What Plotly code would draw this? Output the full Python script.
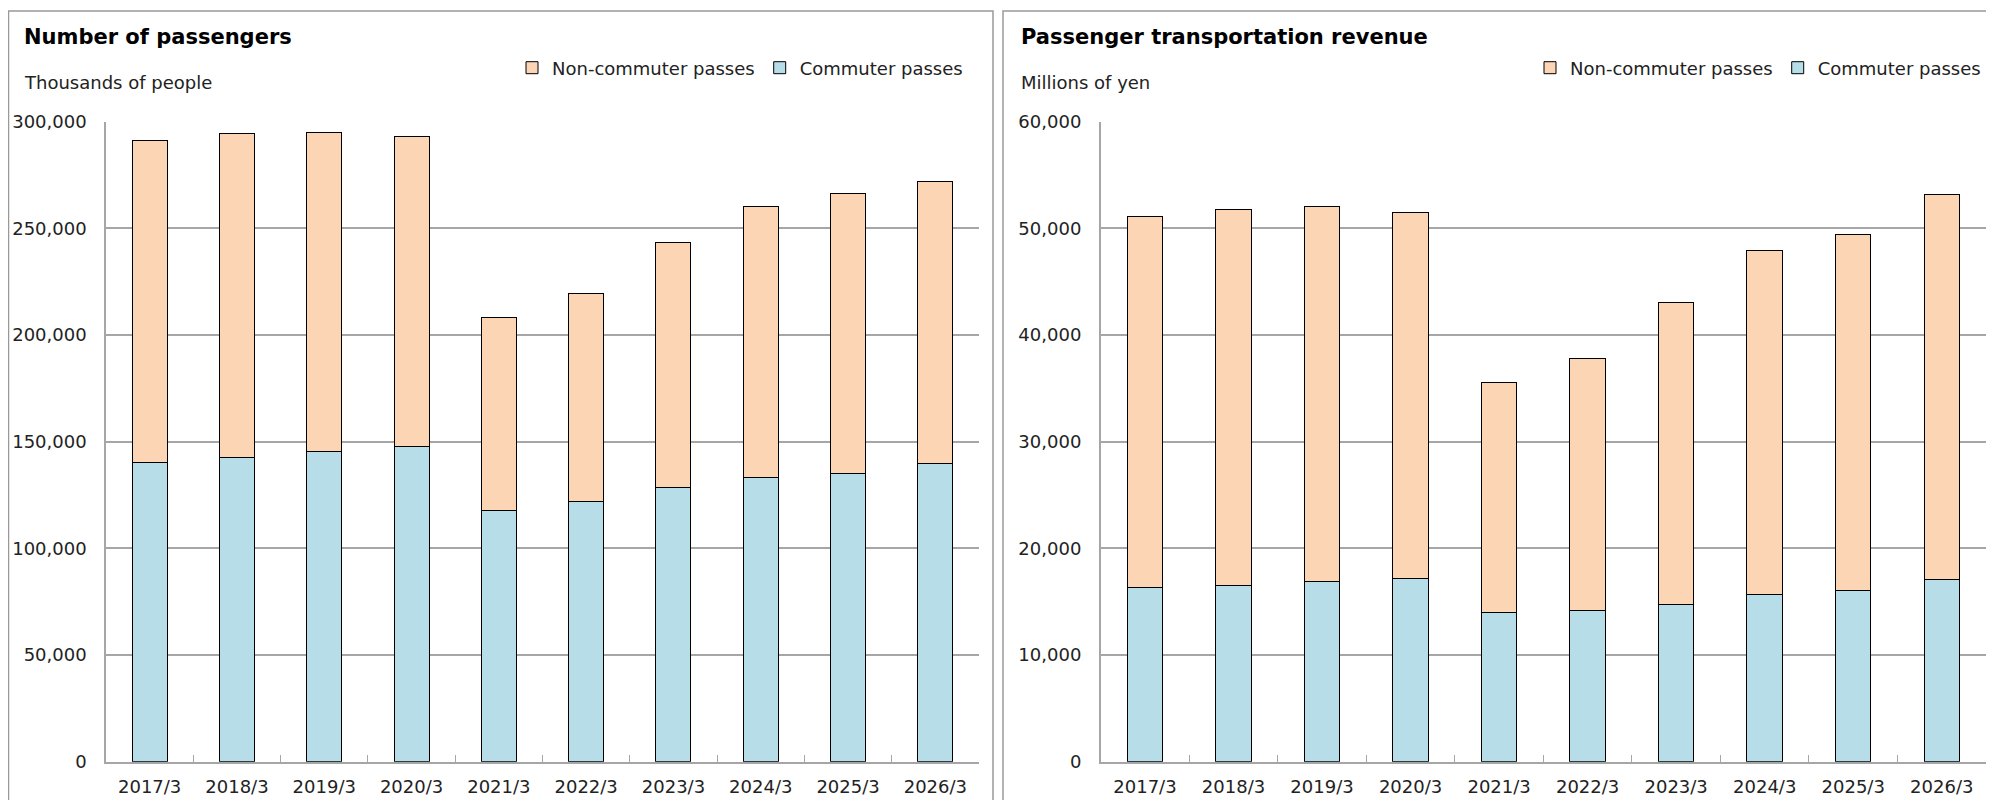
import plotly.graph_objects as go

# the page body keeps its default 8px margin, so the figure is drawn
# 16px smaller and reference pixel positions are shifted by 8px
OFF = 8
W, H = 1994 - 2 * OFF, 808 - 2 * OFF

years = ['2017/3', '2018/3', '2019/3', '2020/3', '2021/3',
         '2022/3', '2023/3', '2024/3', '2025/3', '2026/3']

# Number of passengers (thousands of people)
pax_commuter = [140300, 142400, 145300, 147700, 117700,
                121900, 128300, 133000, 135300, 139600]
pax_non_commuter = [150700, 152000, 149700, 145300, 90400,
                    97500, 115300, 127200, 131000, 132300]

# Passenger transportation revenue (millions of yen)
rev_commuter = [16310, 16560, 16880, 17130, 14000,
                14130, 14720, 15690, 16060, 17060]
rev_non_commuter = [34820, 35250, 35150, 34340, 21530,
                    23710, 28350, 32220, 33410, 36100]

pax_ticks = [0, 50000, 100000, 150000, 200000, 250000, 300000]
rev_ticks = [0, 10000, 20000, 30000, 40000, 50000, 60000]

BLUE = '#B7DEE8'
PEACH = '#FCD5B5'
GRID = '#A6A6A6'
FONT = 'Verdana, DejaVu Sans, sans-serif'


def px_x(x):
    return min((x - OFF) / W, 1.0)


def px_y(y):
    return 1 - (y - OFF) / H


fig = go.Figure()

# left panel
fig.add_trace(go.Bar(
    x=years, y=pax_commuter, name='Commuter passes',
    marker=dict(color=BLUE, line=dict(color='black', width=1)),
    xaxis='x', yaxis='y', legend='legend'
))
fig.add_trace(go.Bar(
    x=years, y=pax_non_commuter, name='Non-commuter passes',
    marker=dict(color=PEACH, line=dict(color='black', width=1)),
    xaxis='x', yaxis='y', legend='legend'
))

# right panel
fig.add_trace(go.Bar(
    x=years, y=rev_commuter, name='Commuter passes',
    marker=dict(color=BLUE, line=dict(color='black', width=1)),
    xaxis='x2', yaxis='y2', legend='legend2'
))
fig.add_trace(go.Bar(
    x=years, y=rev_non_commuter, name='Non-commuter passes',
    marker=dict(color=PEACH, line=dict(color='black', width=1)),
    xaxis='x2', yaxis='y2', legend='legend2'
))

xaxis_style = dict(
    type='category', tickson='boundaries', ticks='inside', ticklen=7,
    tickcolor=GRID, showline=True, linecolor=GRID, linewidth=1.5,
    showgrid=False, tickfont=dict(size=18, color='#222'),
    ticklabelstandoff=8, automargin=False, fixedrange=True
)
yaxis_style = dict(
    showgrid=True, gridcolor=GRID, gridwidth=1.5, showline=True,
    linecolor=GRID, linewidth=1.5, ticks='', tickformat=',',
    ticklabelstandoff=14, tickfont=dict(size=18, color='#222'),
    zeroline=False, automargin=False, fixedrange=True
)

legend_style = dict(
    orientation='h', traceorder='reversed', yanchor='middle', xanchor='right',
    bgcolor='rgba(0,0,0,0)', font=dict(size=18, color='#222'),
    itemwidth=30
)

fig.update_layout(
    width=W, height=H,
    margin=dict(l=0, r=0, t=0, b=0, pad=0),
    paper_bgcolor='white', plot_bgcolor='white',
    font=dict(family=FONT, color='#222'),
    barmode='stack', bargap=0.6,
    xaxis=dict(domain=[px_x(106), px_x(979)], anchor='y', **xaxis_style),
    yaxis=dict(domain=[px_y(761.7), px_y(121.7)], anchor='x',
               range=[0, 300000], tickvals=pax_ticks, **yaxis_style),
    xaxis2=dict(domain=[px_x(1100.7), px_x(1987.7)], anchor='y2', **xaxis_style),
    yaxis2=dict(domain=[px_y(761.7), px_y(121.7)], anchor='x2',
                range=[0, 60000], tickvals=rev_ticks, **yaxis_style),
    legend=dict(x=px_x(968), y=px_y(68), **legend_style),
    legend2=dict(x=px_x(1986), y=px_y(68), **legend_style),
    showlegend=True,
)

# panel frames
fig.add_shape(type='rect', xref='paper', yref='paper',
              x0=px_x(8.5), x1=px_x(993), y0=-0.05, y1=px_y(11),
              line=dict(color='#999999', width=1.5))
fig.add_shape(type='rect', xref='paper', yref='paper',
              x0=px_x(1003), x1=1.05, y0=-0.05, y1=px_y(11),
              line=dict(color='#999999', width=1.5))

# titles and units
for x0, title, unit in [(22, 'Number of passengers', 'Thousands of people'),
                        (1019, 'Passenger transportation revenue', 'Millions of yen')]:
    fig.add_annotation(x=px_x(x0), y=px_y(37), xref='paper', yref='paper',
                       text=f'<b>{title}</b>', showarrow=False,
                       xanchor='left', yanchor='middle',
                       font=dict(size=21, color='black'))
    fig.add_annotation(x=px_x(x0), y=px_y(82), xref='paper', yref='paper',
                       text=unit, showarrow=False,
                       xanchor='left', yanchor='middle',
                       font=dict(size=18, color='#222'))

fig.write_html('out.html')
